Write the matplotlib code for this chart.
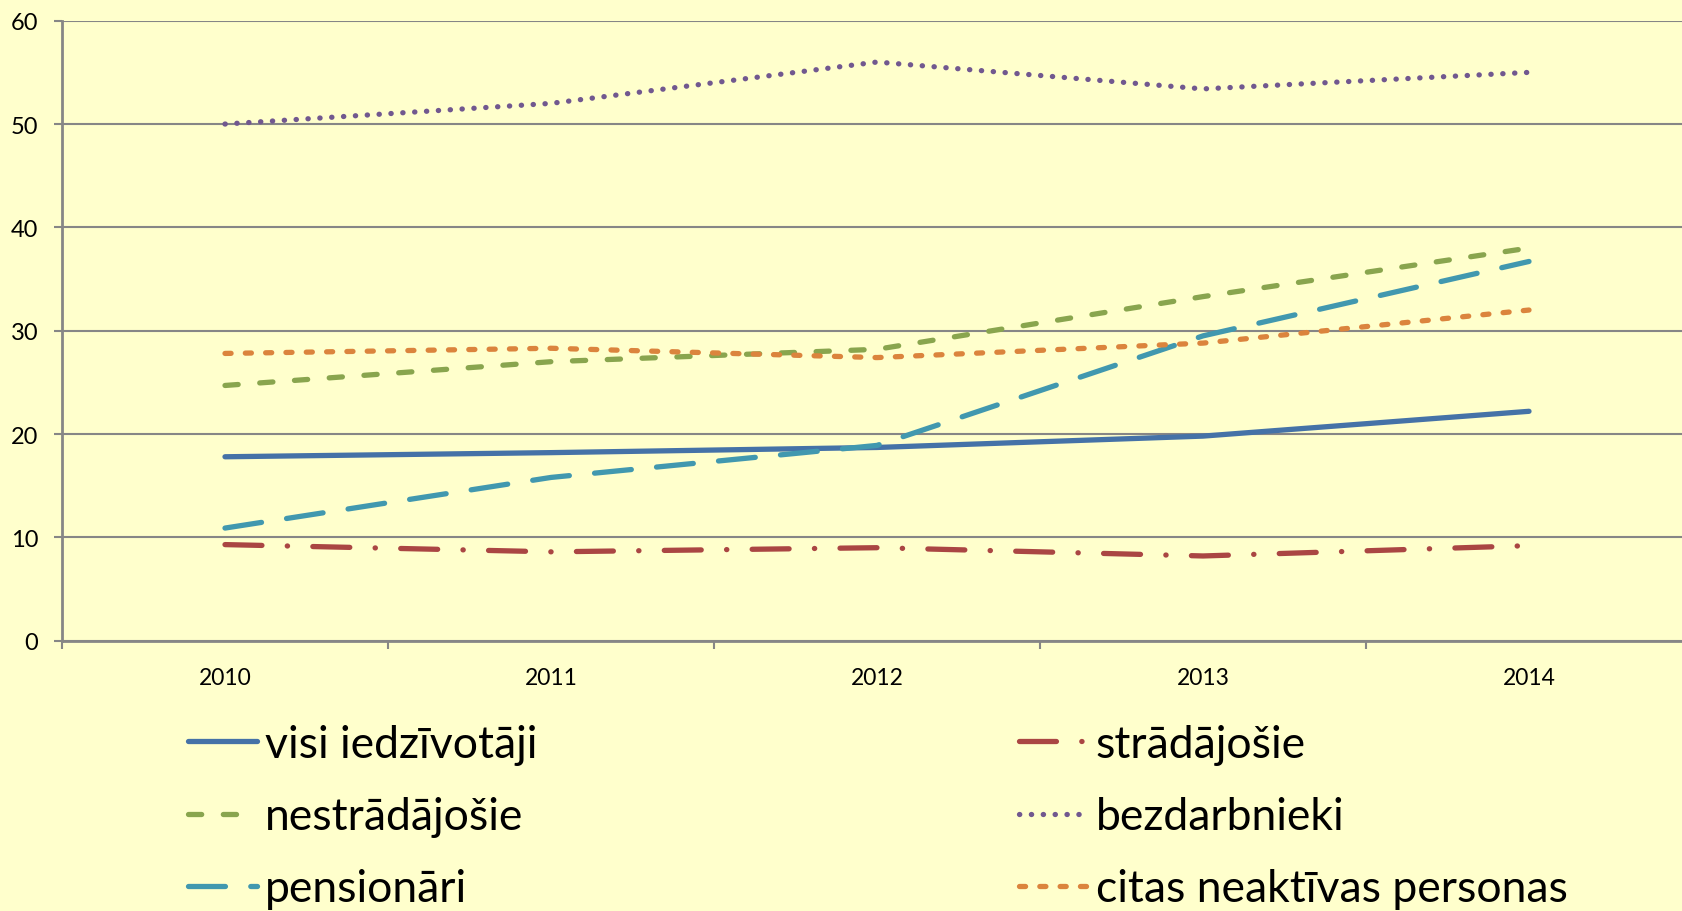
import matplotlib
matplotlib.use('Agg')
import matplotlib.pyplot as plt

years = ['2010', '2011', '2012', '2013', '2014']

visi = [17.8, 18.2, 18.7, 19.8, 22.2]
stradajosie = [9.3, 8.6, 9.0, 8.2, 9.2]
nestradajosie = [24.7, 27.0, 28.2, 33.3, 38.0]
bezdarbnieki = [50.0, 52.0, 56.0, 53.4, 55.0]
pensionari = [10.9, 15.8, 18.9, 29.5, 36.7]
citas = [27.8, 28.3, 27.4, 28.8, 32.0]

labels = ['visi iedzīvotāji', 'strādājošie', 'nestrādājošie',
          'bezdarbnieki', 'pensionāri', 'citas neaktīvas personas']

plt.rcParams['font.family'] = ['Lato', 'DejaVu Sans']

bg = '#FFFFCC'
grid_c = '#868686'

fig = plt.figure(figsize=(16.82, 9.12), dpi=100, facecolor=bg)
ax = fig.add_axes([62 / 1682, 270.3 / 912, 1630 / 1682, 620 / 912])
ax.set_facecolor(bg)

x = list(range(len(years)))
lw = 3.8
styles = [
    (visi, '#4572A7', None),
    (stradajosie, '#AA4643', (7.0, 4.8, 0.05, 4.8)),
    (nestradajosie, '#89A54E', (2.5, 4.1)),
    (bezdarbnieki, '#71588F', (0.05, 2.2)),
    (pensionari, '#4198AF', (7.0, 4.8)),
    (citas, '#DB843D', (1.15, 2.7)),
]
lines = []
for (vals, col, dash), lab in zip(styles, labels):
    if dash is None:
        ln, = ax.plot(x, vals, color=col, lw=lw, solid_capstyle='round',
                      solid_joinstyle='round', label=lab)
    else:
        ln, = ax.plot(x, vals, color=col, lw=lw, dashes=dash,
                      dash_capstyle='round', dash_joinstyle='round', label=lab)
    lines.append(ln)

ax.set_xlim(-0.5, 4.5)
ax.set_ylim(0, 60)
ax.set_yticks(range(0, 61, 10))
ax.yaxis.grid(True, color=grid_c, lw=1.5)
ax.set_axisbelow(True)
for s in ['top', 'right']:
    ax.spines[s].set_visible(False)
for s in ['left', 'bottom']:
    ax.spines[s].set_color(grid_c)
    ax.spines[s].set_linewidth(2)

ax.set_xticks(x)
ax.set_xticklabels(years)
ax.set_xticks([i - 0.5 for i in range(len(years) + 1)], minor=True)
ax.tick_params(axis='x', which='major', length=0, pad=19, labelsize=16.5)
ax.tick_params(axis='x', which='minor', length=6, width=1.5, color=grid_c,
               direction='out')
ax.tick_params(axis='y', length=6, width=1.5, color=grid_c, pad=11,
               labelsize=17)

# two legend columns, placed separately
col1 = [lines[0], lines[2], lines[4]]
col2 = [lines[1], lines[3], lines[5]]
for hs, xpos in [(col1, 188 / 1682), (col2, 1019 / 1682)]:
    fig.legend(handles=hs, labels=[h.get_label() for h in hs],
               loc='upper left', bbox_to_anchor=(xpos, 1 - 725 / 912),
               frameon=False, fontsize=32, handlelength=1.55,
               handletextpad=0.18, labelspacing=0.7, borderpad=0,
               borderaxespad=0)

fig.savefig('out.png', dpi=100, facecolor=bg)
